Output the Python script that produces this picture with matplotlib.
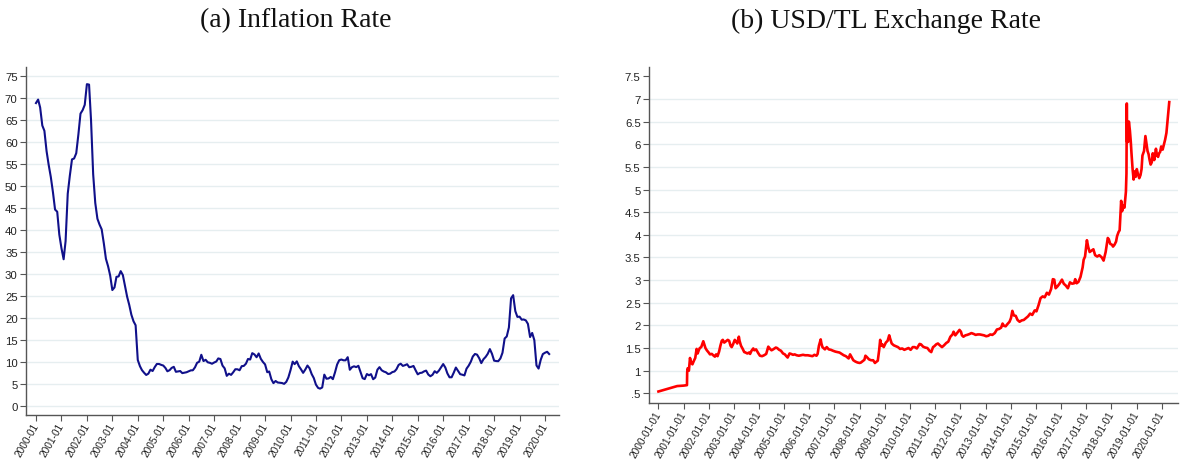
import matplotlib
matplotlib.use("Agg")
import matplotlib.pyplot as plt
import pandas as pd

# Annual CPI inflation (%), monthly, 2000-01 .. 2020-03
inflation_start = "2000-01-01"
inflation = [
    68.9, 69.7, 67.9, 63.8, 62.6, 58.0, 54.9, 52.1, 48.6, 44.7, 44.2, 39.0,
    35.9, 33.4, 37.5, 48.3, 52.4, 56.1, 56.3, 57.5, 61.8, 66.5, 67.3, 68.5,
    73.2, 73.1, 65.1, 52.7, 46.2, 42.6, 41.3, 40.2, 37.0, 33.5, 31.8, 29.7,
    26.4, 27.0, 29.4, 29.5, 30.7, 29.8, 27.4, 24.9, 23.0, 20.8, 19.3, 18.4,
    10.5, 9.1, 8.2, 7.6, 7.1, 7.4, 8.3, 8.0, 8.9, 9.6, 9.6, 9.4,
    9.24, 8.69, 7.94, 8.18, 8.70, 8.95, 7.82, 7.91, 7.99, 7.52, 7.61, 7.72,
    7.93, 8.15, 8.16, 8.83, 9.86, 10.12, 11.69, 10.26, 10.55, 9.98, 9.86, 9.65,
    9.93, 10.16, 10.86, 10.72, 9.23, 8.60, 6.90, 7.39, 7.12, 7.70, 8.40, 8.39,
    8.17, 9.10, 9.15, 9.66, 10.74, 10.61, 12.06, 11.77, 11.13, 11.99, 10.76, 10.06,
    9.50, 7.73, 7.89, 6.13, 5.24, 5.73, 5.39, 5.33, 5.27, 5.08, 5.53, 6.53,
    8.19, 10.13, 9.56, 10.19, 9.10, 8.37, 7.58, 8.33, 9.24, 8.62, 7.29, 6.40,
    4.90, 4.16, 3.99, 4.26, 7.17, 6.24, 6.31, 6.65, 6.15, 7.66, 9.48, 10.45,
    10.61, 10.43, 10.43, 11.14, 8.28, 8.87, 9.07, 8.88, 9.19, 7.80, 6.37, 6.16,
    7.31, 7.03, 7.29, 6.13, 6.51, 8.30, 8.88, 8.17, 7.88, 7.71, 7.32, 7.40,
    7.75, 7.89, 8.39, 9.38, 9.66, 9.16, 9.32, 9.54, 8.86, 8.96, 9.15, 8.17,
    7.24, 7.55, 7.61, 7.91, 8.09, 7.20, 6.81, 7.14, 7.95, 7.58, 8.10, 8.81,
    9.58, 8.78, 7.46, 6.57, 6.58, 7.64, 8.79, 8.05, 7.28, 7.16, 7.00, 8.53,
    9.22, 10.13, 11.29, 11.87, 11.72, 10.90, 9.79, 10.68, 11.20, 11.90, 12.98, 11.92,
    10.35, 10.26, 10.23, 10.85, 12.15, 15.39, 15.85, 17.90, 24.52, 25.24, 21.62, 20.30,
    20.35, 19.67, 19.71, 19.50, 18.71, 15.72, 16.65, 15.01, 9.26, 8.55, 10.56, 11.84,
    12.15, 12.37, 11.86,
]

# USD/TL exchange rate observations
usd_dates = [
    "2000-01-03", "2000-04-01", "2000-07-01", "2000-10-01", "2001-01-02", "2001-02-20",
    "2001-02-23", "2001-03-01", "2001-03-20", "2001-04-05", "2001-04-20", "2001-05-10",
    "2001-06-01", "2001-06-20", "2001-07-10", "2001-07-25", "2001-08-10", "2001-08-25",
    "2001-09-15", "2001-10-15", "2001-10-25", "2001-11-15", "2001-12-05", "2002-01-01",
    "2002-01-20", "2002-02-15", "2002-03-15", "2002-04-01", "2002-04-20", "2002-05-10",
    "2002-06-01", "2002-06-20", "2002-07-10", "2002-07-25", "2002-08-15", "2002-09-10",
    "2002-10-05", "2002-10-25", "2002-11-15", "2002-12-01", "2002-12-20", "2003-01-15",
    "2003-02-05", "2003-02-20", "2003-03-15", "2003-03-25", "2003-04-15", "2003-05-10",
    "2003-06-01", "2003-06-20", "2003-07-15", "2003-08-10", "2003-08-25", "2003-09-15",
    "2003-10-10", "2003-10-25", "2003-11-20", "2003-12-20", "2004-01-15", "2004-02-15",
    "2004-03-15", "2004-04-15", "2004-05-15", "2004-06-10", "2004-07-01", "2004-07-25",
    "2004-09-01", "2004-09-20", "2004-10-20", "2004-11-15", "2004-12-15", "2005-01-10",
    "2005-02-01", "2005-02-20", "2005-03-20", "2005-04-10", "2005-05-10", "2005-06-01",
    "2005-07-01", "2005-08-01", "2005-09-01", "2005-10-01", "2005-11-01", "2005-12-10",
    "2006-01-10", "2006-02-15", "2006-03-15", "2006-04-15", "2006-05-01", "2006-05-20",
    "2006-06-15", "2006-06-25", "2006-07-10", "2006-07-25", "2006-08-15", "2006-09-10",
    "2006-10-10", "2006-11-10", "2006-12-10", "2007-01-15", "2007-02-15", "2007-03-15",
    "2007-04-15", "2007-05-15", "2007-06-15", "2007-07-10", "2007-07-25", "2007-08-15",
    "2007-09-10", "2007-10-01", "2007-11-01", "2007-12-01", "2008-01-01", "2008-01-20",
    "2008-02-15", "2008-03-10", "2008-03-25", "2008-04-15", "2008-05-15", "2008-06-15",
    "2008-07-15", "2008-08-10", "2008-08-25", "2008-09-20", "2008-10-10", "2008-10-25",
    "2008-11-10", "2008-11-25", "2008-12-15", "2009-01-15", "2009-02-10", "2009-03-05",
    "2009-03-20", "2009-04-10", "2009-05-10", "2009-06-10", "2009-07-10", "2009-08-10",
    "2009-09-10", "2009-10-10", "2009-11-10", "2009-12-10", "2010-01-10", "2010-02-10",
    "2010-03-10", "2010-04-10", "2010-05-20", "2010-06-10", "2010-07-10", "2010-08-10",
    "2010-09-10", "2010-10-10", "2010-11-05", "2010-12-01", "2010-12-20", "2011-01-15",
    "2011-02-10", "2011-03-10", "2011-04-10", "2011-05-10", "2011-06-10", "2011-07-10",
    "2011-08-10", "2011-09-10", "2011-09-25", "2011-10-20", "2011-11-15", "2011-12-20",
    "2012-01-10", "2012-01-25", "2012-02-15", "2012-03-15", "2012-04-10", "2012-05-15",
    "2012-06-10", "2012-07-15", "2012-08-10", "2012-09-10", "2012-10-10", "2012-11-10",
    "2012-12-10", "2013-01-10", "2013-02-10", "2013-03-10", "2013-04-10", "2013-05-15",
    "2013-06-15", "2013-07-15", "2013-08-15", "2013-09-05", "2013-09-25", "2013-10-20",
    "2013-11-15", "2013-12-15", "2014-01-05", "2014-01-25", "2014-02-15", "2014-03-15",
    "2014-04-10", "2014-05-10", "2014-06-10", "2014-07-10", "2014-08-10", "2014-09-10",
    "2014-10-10", "2014-11-10", "2014-12-15", "2015-01-10", "2015-02-10", "2015-03-10",
    "2015-04-10", "2015-05-10", "2015-06-10", "2015-07-10", "2015-08-10", "2015-09-05",
    "2015-09-25", "2015-10-15", "2015-11-10", "2015-12-10", "2016-01-15", "2016-02-10",
    "2016-03-10", "2016-04-10", "2016-05-10", "2016-06-10", "2016-07-10", "2016-07-25",
    "2016-08-15", "2016-09-10", "2016-10-10", "2016-11-10", "2016-11-25", "2016-12-15",
    "2017-01-11", "2017-01-30", "2017-02-20", "2017-03-20", "2017-04-15", "2017-05-10",
    "2017-06-10", "2017-07-10", "2017-08-15", "2017-09-10", "2017-10-10", "2017-11-10",
    "2017-11-25", "2017-12-15", "2018-01-10", "2018-01-25", "2018-02-15", "2018-03-10",
    "2018-03-25", "2018-04-15", "2018-05-01", "2018-05-23", "2018-06-05", "2018-06-25",
    "2018-07-10", "2018-07-31", "2018-08-08", "2018-08-13", "2018-08-17", "2018-09-01",
    "2018-09-12", "2018-09-27", "2018-10-10", "2018-10-20", "2018-11-05", "2018-11-20",
    "2018-12-05", "2018-12-20", "2019-01-05", "2019-01-20", "2019-02-10", "2019-02-28",
    "2019-03-15", "2019-03-28", "2019-04-20", "2019-05-10", "2019-05-25", "2019-06-10",
    "2019-06-25", "2019-07-10", "2019-07-25", "2019-08-10", "2019-08-25", "2019-09-15",
    "2019-10-10", "2019-10-25", "2019-11-10", "2019-11-25", "2019-12-10", "2019-12-25",
    "2020-01-15", "2020-02-01", "2020-02-20", "2020-03-10", "2020-03-25", "2020-04-10",
    "2020-04-20",
]
usd_values = [
    0.54, 0.58, 0.62, 0.66, 0.67, 0.68,
    0.96, 1.05, 1.00, 1.28, 1.18, 1.14,
    1.22, 1.28, 1.48, 1.38, 1.45, 1.50,
    1.52, 1.65, 1.60, 1.50, 1.45, 1.40,
    1.36, 1.37, 1.33, 1.31, 1.36, 1.32,
    1.42, 1.55, 1.66, 1.68, 1.62, 1.65,
    1.68, 1.66, 1.55, 1.52, 1.58, 1.68,
    1.64, 1.60, 1.75, 1.66, 1.55, 1.48,
    1.41, 1.40, 1.38, 1.40, 1.37, 1.44,
    1.49, 1.45, 1.47, 1.39, 1.33, 1.32,
    1.34, 1.37, 1.53, 1.48, 1.45, 1.47,
    1.51, 1.50, 1.46, 1.44, 1.38, 1.36,
    1.32, 1.29, 1.38, 1.37, 1.35, 1.36,
    1.34, 1.33, 1.34, 1.35, 1.34, 1.34,
    1.33, 1.32, 1.35, 1.33, 1.37, 1.55,
    1.69, 1.60, 1.52, 1.50, 1.47, 1.52,
    1.47, 1.46, 1.44, 1.42, 1.41, 1.40,
    1.37, 1.34, 1.32, 1.29, 1.27, 1.36,
    1.29, 1.23, 1.20, 1.18, 1.17, 1.18,
    1.21, 1.24, 1.33, 1.30, 1.25, 1.23,
    1.23, 1.17, 1.19, 1.22, 1.45, 1.68,
    1.55, 1.58, 1.52, 1.62, 1.66, 1.78,
    1.70, 1.60, 1.56, 1.54, 1.52, 1.48,
    1.49, 1.46, 1.48, 1.50, 1.46, 1.52,
    1.52, 1.49, 1.59, 1.58, 1.53, 1.51,
    1.50, 1.44, 1.41, 1.52, 1.54, 1.58,
    1.60, 1.56, 1.52, 1.56, 1.61, 1.64,
    1.75, 1.80, 1.86, 1.78, 1.83, 1.90,
    1.86, 1.78, 1.75, 1.78, 1.79, 1.81,
    1.83, 1.81, 1.79, 1.80, 1.80, 1.79,
    1.78, 1.76, 1.77, 1.80, 1.79, 1.83,
    1.91, 1.92, 1.95, 2.04, 1.99, 1.98,
    2.03, 2.08, 2.16, 2.32, 2.22, 2.21,
    2.12, 2.08, 2.11, 2.12, 2.16, 2.20,
    2.26, 2.23, 2.33, 2.31, 2.45, 2.60,
    2.64, 2.62, 2.72, 2.68, 2.80, 3.02,
    3.01, 2.82, 2.86, 2.92, 3.01, 2.92,
    2.88, 2.82, 2.95, 2.92, 2.93, 3.02,
    2.93, 2.96, 3.07, 3.28, 3.45, 3.52,
    3.88, 3.73, 3.62, 3.65, 3.68, 3.55,
    3.52, 3.55, 3.50, 3.43, 3.62, 3.93,
    3.90, 3.80, 3.78, 3.74, 3.78, 3.85,
    3.97, 4.06, 4.10, 4.75, 4.52, 4.65,
    4.60, 4.95, 5.35, 6.90, 6.05, 6.05,
    6.50, 6.30, 6.05, 5.80, 5.45, 5.22,
    5.40, 5.28, 5.45, 5.35, 5.25, 5.32,
    5.45, 5.75, 5.85, 6.18, 6.02, 5.85,
    5.78, 5.65, 5.55, 5.60, 5.80, 5.65,
    5.90, 5.75, 5.72, 5.80, 5.83, 5.95,
    5.88, 5.98, 6.10, 6.25, 6.50, 6.75,
    6.93,
]

infl_ticks = list(range(0, 80, 5))
usd_ticks = [0.5, 1, 1.5, 2, 2.5, 3, 3.5, 4, 4.5, 5, 5.5, 6, 6.5, 7, 7.5]
usd_tick_labels = [".5", "1", "1.5", "2", "2.5", "3", "3.5", "4", "4.5",
                   "5", "5.5", "6", "6.5", "7", "7.5"]
years = list(range(2000, 2021))

W, H = 1181, 460
fig = plt.figure(figsize=(W / 100, H / 100), dpi=100)
fig.patch.set_facecolor("white")

GRID = "#e6eef0"
SPINE = "#555555"
TICKFONT = "Liberation Sans"


def style_axes(ax):
    for side in ("top", "right"):
        ax.spines[side].set_visible(False)
    for side in ("left", "bottom"):
        ax.spines[side].set_color(SPINE)
        ax.spines[side].set_linewidth(1.0)
    ax.tick_params(axis="both", direction="out", length=4, width=0.8,
                   color=SPINE, pad=2)
    ax.tick_params(axis="y", labelsize=8.2, labelcolor="#222222")
    ax.tick_params(axis="x", labelsize=7.3, labelcolor="#222222")
    for lab in ax.get_xticklabels() + ax.get_yticklabels():
        lab.set_fontfamily(TICKFONT)
    for lab in ax.get_xticklabels():
        lab.set_rotation(60)
        lab.set_ha("right")
        lab.set_va("center")
        lab.set_rotation_mode("anchor")


# (a) inflation
ax1 = fig.add_axes([26 / W, 1 - 416 / H, 533 / W, 348 / H])
infl_dates = pd.date_range(inflation_start, periods=len(inflation), freq="MS")
for v in infl_ticks:
    ax1.axhline(v, color=GRID, lw=1.0, zorder=0)
ax1.plot(infl_dates, inflation, color="#10108a", lw=1.5, zorder=3)
ax1.set_ylim(-2.0, 77.1)
ax1.set_yticks(infl_ticks)
ax1.set_yticklabels([str(v) for v in infl_ticks])
ax1.set_xlim(pd.Timestamp("1999-08-11"), pd.Timestamp("2020-07-20"))
ax1.set_xticks([pd.Timestamp(f"{y}-01-01") for y in years])
ax1.set_xticklabels([f"{y}-01" for y in years])
style_axes(ax1)

# (b) USD/TL exchange rate
ax2 = fig.add_axes([649 / W, 1 - 404 / H, 529 / W, 336 / H])
for v in usd_ticks[:-1]:
    ax2.axhline(v, color=GRID, lw=1.0, zorder=0)
ax2.plot(pd.to_datetime(usd_dates), usd_values, color="#ff0000", lw=1.9,
         zorder=3)
ax2.set_ylim(0.286, 7.705)
ax2.set_yticks(usd_ticks)
ax2.set_yticklabels(usd_tick_labels)
ax2.set_xlim(pd.Timestamp("1999-08-19"), pd.Timestamp("2020-08-25"))
ax2.set_xticks([pd.Timestamp(f"{y}-01-01") for y in years])
ax2.set_xticklabels([f"{y}-01-01" for y in years])
style_axes(ax2)

title_kw = dict(fontsize=20, family="Liberation Serif", ha="center",
                va="baseline", color="#111111")
fig.text(0.25, 1 - 27.5 / H, "(a) Inflation Rate", **title_kw)
fig.text(0.75, 1 - 27.5 / H, "(b) USD/TL Exchange Rate", **title_kw)

fig.savefig("out.png", dpi=100, facecolor="white")
